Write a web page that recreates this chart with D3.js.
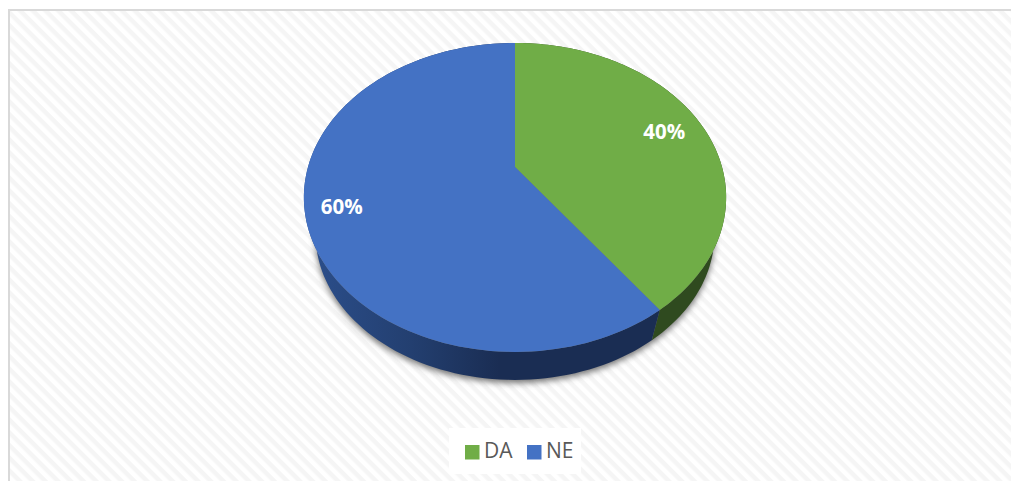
<!DOCTYPE html>
<html>
<head>
<meta charset="utf-8">
<script src="https://cdn.jsdelivr.net/npm/d3@7"></script>
<style>
html, body { margin: 0; padding: 0; background: #fff; overflow: hidden; }
text { font-family: "Open Sans", sans-serif; }
</style>
</head>
<body>
<div id="chart"></div>
<script>
var categories = ["DA", "NE"];
var values = [40, 60];
var sliceLabels = ["40%", "60%"];

var width = 1011, height = 481;
var colors = ["#70ad47", "#4472c4"];

// tilted disc: a circle seen in perspective
var cx = 515, cy = 167;
var sx = 207, sy = 148.5, tilt = 0.197;
var depthScale = 0.945, depthBottom = 28;
var labelRadius = [0.795, 0.835];

var svg = d3.select("#chart").append("svg")
    .attr("width", width)
    .attr("height", height)
    .style("display", "block");

var defs = svg.append("defs");

var hatch = defs.append("pattern")
    .attr("id", "hatch")
    .attr("patternUnits", "userSpaceOnUse")
    .attr("width", 9)
    .attr("height", 9)
    .attr("patternTransform", "rotate(45)");
hatch.append("rect").attr("width", 9).attr("height", 9).attr("fill", "#fff");
hatch.append("rect").attr("width", 9).attr("height", 4.5).attr("fill", "#f5f5f5");

var blur = defs.append("filter")
    .attr("id", "shadow")
    .attr("x", "-10%").attr("y", "-10%")
    .attr("width", "120%").attr("height", "120%");
blur.append("feGaussianBlur").attr("stdDeviation", 3);

var wallGrad = defs.append("linearGradient")
    .attr("id", "wallBlue")
    .attr("gradientUnits", "userSpaceOnUse")
    .attr("x1", 304).attr("x2", 660)
    .attr("y1", 0).attr("y2", 0);
wallGrad.append("stop").attr("offset", "0%").attr("stop-color", "#2c4f8c");
wallGrad.append("stop").attr("offset", "30%").attr("stop-color", "#233f70");
wallGrad.append("stop").attr("offset", "55%").attr("stop-color", "#1a2d53");
wallGrad.append("stop").attr("offset", "100%").attr("stop-color", "#1a2d53");

// chart area
svg.append("rect")
    .attr("x", 9).attr("y", 10)
    .attr("width", width + 10).attr("height", height + 10)
    .attr("fill", "url(#hatch)")
    .attr("stroke", "#d9d9d9")
    .attr("stroke-width", 2);

var pie = d3.pie().sort(null).value(d => d);
var arcs = pie(values);

function project(angle, r) {
    var u = Math.sin(angle) * r, v = -Math.cos(angle) * r;
    var w = 1 - tilt * v;
    return [cx + sx * u / w, cy + sy * v / w];
}

// same point on the lower rim of the disc
var topMid = project(Math.PI, 1)[1], ry = sy / Math.sqrt(1 - tilt * tilt);
var ellipseCy = topMid - ry;
function lower(p) {
    return [cx + (p[0] - cx) * depthScale,
            ellipseCy + depthBottom + ry * (1 - depthScale) + (p[1] - ellipseCy) * depthScale];
}

function rim(a0, a1) {
    return d3.range(0, 121).map(i => a0 + (a1 - a0) * i / 120);
}

var line = d3.line();

// drop shadow under the disc
var full = rim(0, 2 * Math.PI);
svg.append("path")
    .attr("d", line(full.map(a => {
        var p = lower(project(a, 1));
        return [p[0], p[1] + 3];
    })) + "Z")
    .attr("fill", "#737373")
    .attr("filter", "url(#shadow)");

// side walls
var wallFill = ["#2f4a1f", "url(#wallBlue)"];
svg.selectAll("path.wall")
    .data(arcs)
    .enter()
    .append("path")
    .attr("class", "wall")
    .attr("fill", (d, i) => wallFill[i])
    .attr("d", d => {
        var upper = rim(d.startAngle, d.endAngle).map(a => project(a, 1));
        var bottom = upper.map(lower).reverse();
        return line(upper.concat(bottom)) + "Z";
    });

// top of the disc
svg.selectAll("path.slice")
    .data(arcs)
    .enter()
    .append("path")
    .attr("class", "slice")
    .attr("fill", (d, i) => colors[i])
    .attr("d", d => {
        var pts = rim(d.startAngle, d.endAngle).map(a => project(a, 1));
        return line([project(0, 0)].concat(pts)) + "Z";
    });

svg.selectAll("text.label")
    .data(arcs)
    .enter()
    .append("text")
    .attr("class", "label")
    .attr("x", (d, i) => project((d.startAngle + d.endAngle) / 2, labelRadius[i])[0])
    .attr("y", (d, i) => project((d.startAngle + d.endAngle) / 2, labelRadius[i])[1])
    .attr("dy", "0.33em")
    .attr("text-anchor", "middle")
    .attr("fill", "#fff")
    .attr("font-weight", 700)
    .attr("font-size", 20.5)
    .text((d, i) => sliceLabels[i]);

// legend
var legendX = d3.scaleOrdinal().domain(categories).range([465, 527]);
var legend = svg.append("g");
legend.append("rect")
    .attr("x", 449).attr("y", 428)
    .attr("width", 132).attr("height", 46)
    .attr("fill", "#fff");

legend.selectAll("rect.key")
    .data(categories)
    .enter()
    .append("rect")
    .attr("class", "key")
    .attr("x", d => legendX(d))
    .attr("y", 445)
    .attr("width", 14.5)
    .attr("height", 14.5)
    .attr("fill", (d, i) => colors[i]);

legend.selectAll("text.key")
    .data(categories)
    .enter()
    .append("text")
    .attr("class", "key")
    .attr("x", d => legendX(d) + 19)
    .attr("y", 458)
    .attr("fill", "#595959")
    .attr("font-size", 21)
    .text(d => d);
</script>
</body>
</html>
